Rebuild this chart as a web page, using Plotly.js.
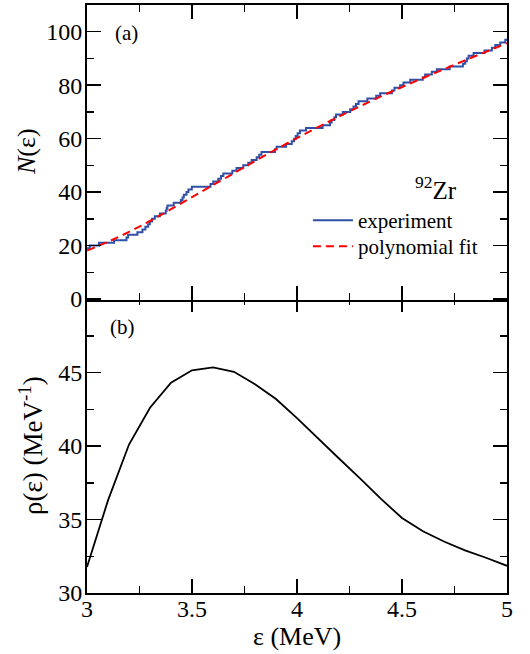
<!DOCTYPE html>
<html><head><meta charset="utf-8">
<script src="https://cdn.plot.ly/plotly-3.0.1.min.js"></script>
<style>html,body{margin:0;padding:0;background:#fff}#chart{width:530px;height:654px}</style>
</head><body><div id="chart"></div>
<script>
// Staircase N(eps): energy where count steps up, and count after the step
const levelEnergy = [3.000, 3.013, 3.057, 3.129, 3.188, 3.196, 3.240, 3.264, 3.278, 3.291, 3.299, 3.310, 3.323, 3.347, 3.375, 3.379, 3.383, 3.413, 3.447, 3.455, 3.461, 3.474, 3.483, 3.499, 3.588, 3.601, 3.625, 3.638, 3.649, 3.692, 3.712, 3.744, 3.768, 3.784, 3.808, 3.820, 3.831, 3.895, 3.903, 3.948, 3.975, 3.986, 3.994, 4.003, 4.014, 4.043, 4.122, 4.157, 4.165, 4.178, 4.186, 4.218, 4.253, 4.269, 4.281, 4.293, 4.335, 4.377, 4.396, 4.452, 4.464, 4.491, 4.507, 4.539, 4.599, 4.610, 4.642, 4.666, 4.727, 4.790, 4.801, 4.809, 4.817, 4.841, 4.893, 4.928, 4.944, 4.968, 4.992, 5.000];
const levelCount  = [19, 20, 21, 22, 23, 24, 25, 26, 27, 28, 29, 30, 31, 32, 33, 34, 35, 36, 37, 38, 39, 40, 41, 42, 43, 44, 45, 46, 47, 48, 49, 50, 51, 52, 53, 54, 55, 56, 57, 58, 59, 60, 61, 62, 63, 64, 65, 66, 67, 68, 69, 70, 71, 72, 73, 74, 75, 76, 77, 78, 79, 80, 81, 82, 83, 84, 85, 86, 87, 88, 89, 90, 91, 92, 93, 94, 95, 96, 97, 97];

// Polynomial fit of N(eps)
const fitEnergy = [3.0, 3.1, 3.2, 3.3, 3.4, 3.5, 3.6, 3.7, 3.8, 3.9, 4.0, 4.1, 4.2, 4.3, 4.4, 4.5, 4.6, 4.7, 4.8, 4.9, 5.0];
const fitN      = [18.1, 21.4, 25.1, 29.2, 33.6, 38.1, 42.6, 47.1, 51.6, 56.0, 60.2, 64.3, 68.3, 72.1, 75.8, 79.3, 82.7, 86.0, 89.3, 92.5, 95.7];

// Level density rho(eps)
const rhoEnergy = [3.0, 3.1, 3.2, 3.3, 3.4, 3.5, 3.6, 3.7, 3.8, 3.9, 4.0, 4.1, 4.2, 4.3, 4.4, 4.5, 4.6, 4.7, 4.8, 4.9, 5.0];
const rhoValue  = [31.77, 36.3, 40.1, 42.6, 44.3, 45.15, 45.35, 45.05, 44.2, 43.2, 41.9, 40.5, 39.15, 37.8, 36.4, 35.1, 34.2, 33.5, 32.9, 32.4, 31.85];

const xTickVals = [3, 3.5, 4, 4.5, 5];
const xTickText = ['3', '3.5', '4', '4.5', '5'];
const nTickVals = [0, 20, 40, 60, 80, 100];
const rhoTickVals = [30, 35, 40, 45];

const FONT = 'Liberation Serif, Times New Roman, serif';
const H = 588; // plot-area height in px

const traces = [
  {x: levelEnergy, y: levelCount, xaxis: 'x2', yaxis: 'y2', type: 'scatter', mode: 'lines',
   line: {shape: 'hv', color: '#3050a8', width: 2}, name: 'experiment', legend: 'legend'},
  {x: fitEnergy, y: fitN, xaxis: 'x2', yaxis: 'y2', type: 'scatter', mode: 'lines',
   line: {color: '#ff0000', width: 2, dash: '8px,5px', shape: 'spline'}, name: 'polynomial fit', legend: 'legend2'},
  {x: rhoEnergy, y: rhoValue, xaxis: 'x', yaxis: 'y', type: 'scatter', mode: 'lines',
   line: {color: '#000', width: 1.8}, showlegend: false}
];

const axBase = {
  showline: true, linecolor: '#000', linewidth: 2, mirror: 'ticks',
  ticks: 'inside', ticklen: 14, tickwidth: 1.5, tickcolor: '#000',
  showgrid: false, zeroline: false,
  tickfont: {family: FONT, size: 24, color: '#000'}
};
const legBase = {xanchor: 'left', yanchor: 'top', bgcolor: 'rgba(0,0,0,0)', itemwidth: 40,
  font: {family: FONT, size: 21, color: '#000'}};

const layout = {
  width: 530, height: 654,
  margin: {l: 87, r: 23, t: 5, b: 61},
  paper_bgcolor: '#fff', plot_bgcolor: '#fff',
  font: {family: FONT, color: '#000'},
  showlegend: true,
  legend: Object.assign({}, legBase, {x: 0.526, y: (593 - 200) / H}),
  legend2: Object.assign({}, legBase, {x: 0.526, y: (593 - 226) / H}),
  xaxis: Object.assign({}, axBase, {domain: [0, 1], anchor: 'y', range: [3, 5],
    tickmode: 'array', tickvals: xTickVals, ticktext: xTickText, ticklabelstandoff: -7,
    minor: {dtick: 0.25, tick0: 3, ticks: 'inside', ticklen: 7, tickwidth: 1.5, tickcolor: '#000', showgrid: false}}),
  yaxis: Object.assign({}, axBase, {domain: [0, 0.5 + 1 / H], anchor: 'x', range: [30, 50 + 1 / H * 40],
    tickmode: 'array', tickvals: rhoTickVals, ticklabelstandoff: -2,
    minor: {dtick: 2.5, tick0: 30, ticks: 'inside', ticklen: 7, tickwidth: 1.5, tickcolor: '#000', showgrid: false}}),
  xaxis2: Object.assign({}, axBase, {domain: [0, 1], anchor: 'y2', range: [3, 5], matches: 'x',
    tickmode: 'array', tickvals: xTickVals, showticklabels: false,
    minor: {dtick: 0.25, tick0: 3, ticks: 'inside', ticklen: 7, tickwidth: 1.5, tickcolor: '#000', showgrid: false}}),
  yaxis2: Object.assign({}, axBase, {domain: [0.5 - 1 / H, 1], anchor: 'x2', range: [0 - 1 / H * 220, 110],
    tickmode: 'array', tickvals: nTickVals, ticklabelstandoff: -2,
    minor: {dtick: 10, tick0: 0, ticks: 'inside', ticklen: 7, tickwidth: 1.5, tickcolor: '#000', showgrid: false}}),
  annotations: [
    {text: '(a)', xref: 'x2', yref: 'y2', x: 3.19, y: 99.5, showarrow: false,
     xanchor: 'center', yanchor: 'middle', font: {family: FONT, size: 21, color: '#000'}},
    {text: '(b)', xref: 'x', yref: 'y', x: 3.17, y: 48.1, showarrow: false,
     xanchor: 'center', yanchor: 'middle', font: {family: FONT, size: 21, color: '#000'}},
    {text: '<sup>92</sup>Zr', xref: 'paper', yref: 'paper', x: (436 - 87) / 420, y: (593 - 188) / H,
     xanchor: 'center', yanchor: 'middle', showarrow: false, font: {family: FONT, size: 25, color: '#000'}},
    {text: '<i>N</i>(ε)', xref: 'paper', yref: 'paper', x: (26 - 87) / 420, y: (593 - 151) / H,
     xanchor: 'center', yanchor: 'middle', textangle: -90, showarrow: false, font: {family: FONT, size: 26, color: '#000'}},
    {text: 'ρ(ε) (MeV<sup>-1</sup>)', xref: 'paper', yref: 'paper', x: (31 - 87) / 420, y: (593 - 446) / H,
     xanchor: 'center', yanchor: 'middle', textangle: -90, showarrow: false, font: {family: FONT, size: 27, color: '#000'}},
    {text: 'ε (MeV)', xref: 'paper', yref: 'paper', x: 0.5, y: (593 - 636) / H,
     xanchor: 'center', yanchor: 'middle', showarrow: false, font: {family: FONT, size: 26, color: '#000'}}
  ]
};

Plotly.newPlot('chart', traces, layout, {displayModeBar: false, staticPlot: true});
</script></body></html>
